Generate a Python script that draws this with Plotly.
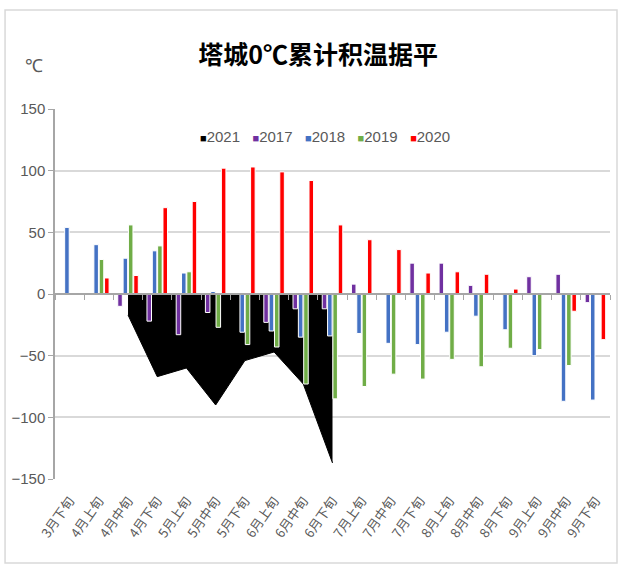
import plotly.graph_objects as go

# decades from late March to late September
categories = ["3月下旬", "4月上旬", "4月中旬", "4月下旬", "5月上旬", "5月中旬", "5月下旬",
              "6月上旬", "6月中旬", "6月下旬", "7月上旬", "7月中旬", "7月下旬",
              "8月上旬", "8月中旬", "8月下旬", "9月上旬", "9月中旬", "9月下旬"]

# 2021 only runs from 4月中旬 to 6月下旬
cats_2021 = categories[2:10]
vals_2021 = [-17, -67, -60, -90, -54, -47, -73, -137]

vals_2017 = [None, None, -10, -22, -33, -15, None, -23, -12, -12,
             8, None, 25, 25, 7, None, 14, 16, -7]
vals_2018 = [54, 40, 29, 35, 17, 2, -31, -30, -35, -34,
             -32, -40, -41, -31, -18, -29, -50, -87, -86]
vals_2019 = [None, 28, 56, 39, 18, -27, -41, -43, -73, -85,
             -75, -65, -69, -53, -59, -44, -45, -58, None]
vals_2020 = [None, 13, 15, 70, 75, 102, 103, 99, 92, 56,
             44, 36, 17, 18, 16, 4, None, -14, -37]

bar_series = [
    ("2017", vals_2017, "#7030A0"),
    ("2018", vals_2018, "#4472C4"),
    ("2019", vals_2019, "#70AD47"),
    ("2020", vals_2020, "#FF0000"),
]

grey = "#595959"
font_main = "Liberation Sans Narrow, Arial Narrow, Liberation Sans, Arial, sans-serif"

fig = go.Figure()

# area sits on the base axis so that the bars (overlay axis) are drawn above it
fig.add_trace(go.Scatter(
    x=cats_2021, y=vals_2021, name="2021",
    mode="lines", fill="tozeroy",
    line=dict(color="black", width=1), fillcolor="black",
    xaxis="x", yaxis="y",
))

for name, vals, color in bar_series:
    fig.add_trace(go.Bar(
        x=categories, y=vals, name=name,
        marker=dict(color=color, line=dict(color="white", width=1)),
        xaxis="x2", yaxis="y",
    ))

# compact Excel-style legend: small coloured square glued to each name
legend_items = [("2021", "black")] + [(n, c) for n, _, c in bar_series]
legend_text = "\u00a0\u00a0\u00a0".join(
    f"<span style='color:{c};font-size:11px'>■</span>{n}" for n, c in legend_items
)

fig.update_layout(
    width=626, height=565,
    margin=dict(l=55, r=16, t=109, b=86, autoexpand=False),
    paper_bgcolor="white", plot_bgcolor="white",
    barmode="group", bargap=0.27, bargroupgap=0.15,
    showlegend=False,
    font=dict(family=font_main, color=grey, size=14),
    title=dict(
        text="塔城0℃累计积温据平",
        x=0.508, xanchor="center", y=0.903, yanchor="middle",
        font=dict(family="Noto Sans CJK SC", size=25, color="black", weight="bold"),
    ),
    xaxis=dict(
        type="category", categoryorder="array", categoryarray=categories,
        range=[-0.5, 18.5], showgrid=False, showline=False,
        # invisible ticks just push the labels down a little
        ticks="outside", ticklen=8, tickcolor="rgba(0,0,0,0)",
        automargin=False,
        tickangle=-55, tickfont=dict(family="Noto Sans CJK SC", size=13, color=grey),
    ),
    xaxis2=dict(
        type="category", categoryorder="array", categoryarray=categories,
        range=[-0.5, 18.5], overlaying="x", anchor="free", position=0.5,
        showgrid=False, showticklabels=False, automargin=False,
        showline=True, linecolor="#a6a6a6", linewidth=2,
        ticks="outside", tickson="boundaries", ticklen=5, tickcolor="#a6a6a6",
    ),
    yaxis=dict(
        range=[-150, 150], dtick=50, tick0=0, automargin=False,
        showgrid=True, gridcolor="#d9d9d9", gridwidth=2,
        zeroline=False, showline=True, linecolor="#a6a6a6", linewidth=1.5,
        ticks="outside", ticklen=5, tickcolor="#a6a6a6",
        tickfont=dict(size=15, color=grey),
    ),
    annotations=[
        dict(text="℃", xref="paper", yref="paper", x=-0.058, y=1.149,
             showarrow=False, font=dict(size=18, color=grey)),
        dict(text=legend_text, xref="paper", yref="paper", x=0.486, y=0.925,
             xanchor="center", yanchor="middle", showarrow=False,
             font=dict(size=15, color=grey)),
    ],
    shapes=[dict(
        type="rect", xref="paper", yref="paper",
        x0=-0.09, x1=1.0126, y0=-0.227, y1=1.2676,
        line=dict(color="#d9d9d9", width=1.5), layer="below",
    )],
)

# drop the default page margin so the figure sits at the window origin
fig.write_html("out.html", config={"displayModeBar": False},
               post_script="document.body.style.margin='0';")
